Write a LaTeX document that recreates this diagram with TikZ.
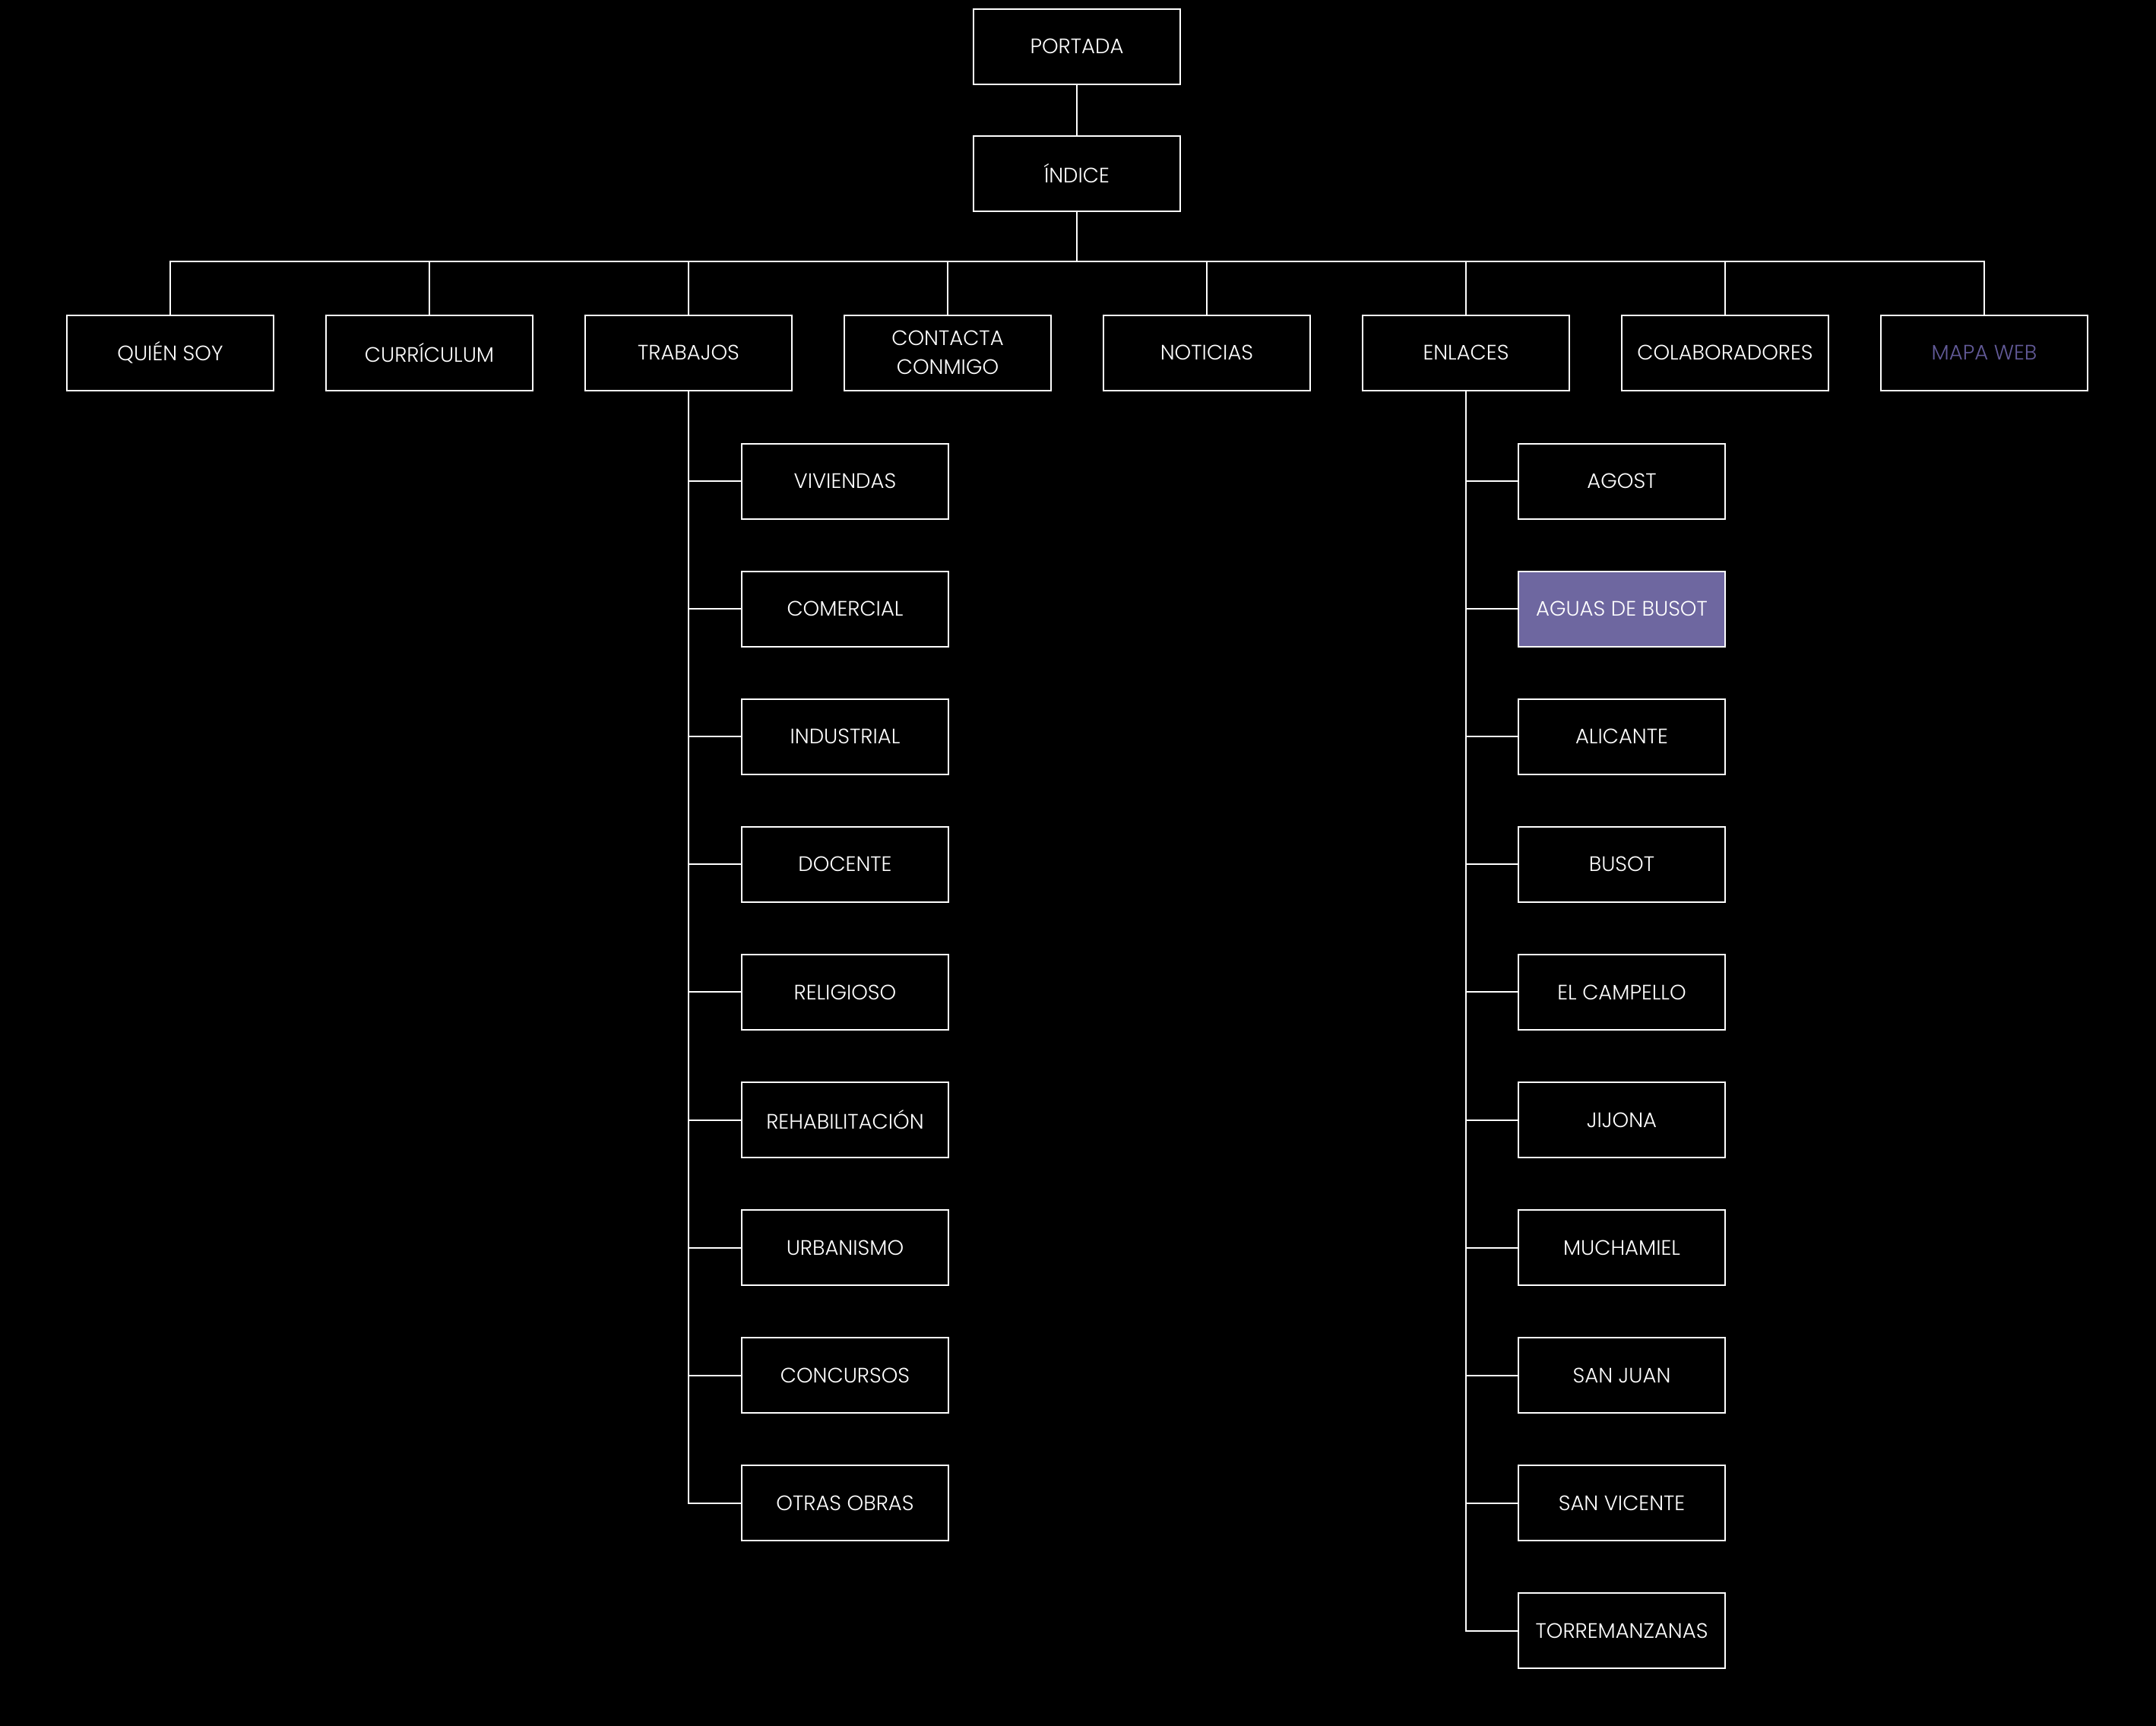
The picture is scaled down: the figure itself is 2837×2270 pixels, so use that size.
\documentclass[tikz,border=0pt]{standalone}
\usepackage{fontspec}
\setmainfont{Poppins}[UprightFont=* Light]
\definecolor{purplefill}{RGB}{110,103,160}
\definecolor{purpletext}{RGB}{98,90,152}
\begin{document}
\begin{tikzpicture}[x=1pt,y=-1pt,
  box/.style={draw=white,line width=2pt,minimum width=272pt,minimum height=99pt,inner sep=0pt,
    text=white,align=center,font=\fontsize{27.5}{38}\selectfont},
  link/.style={draw=white,line width=2pt}]
\useasboundingbox (0,0) rectangle (2837,2270);
\fill[black] (-5,-5) rectangle (2842,2275);
\node[box] (portada) at (1417,61) {PORTADA};
\node[box] (indice) at (1417,228) {ÍNDICE};
\coordinate (bar) at (1417,344);
\node[box] (quien) at (224,464) {QUIÉN SOY};
\node[box] (curriculum) at (565,464) {CURRÍCULUM};
\node[box] (trabajos) at (906,464) {TRABAJOS};
\node[box] (contacta) at (1247,464) {CONTACTA\\CONMIGO};
\node[box] (noticias) at (1588,464) {NOTICIAS};
\node[box] (enlaces) at (1929,464) {ENLACES};
\node[box] (colab) at (2270,464) {COLABORADORES};
\node[box,text=purpletext] (mapa) at (2611,464) {MAPA WEB};
\draw[link] (portada) -- (indice);
\foreach \n in {quien,curriculum,trabajos,contacta,noticias,enlaces,colab,mapa}
  \draw[link] (indice.south) |- (\n.north |- bar) -- (\n.north);
\foreach \t [count=\k from 0] in {VIVIENDAS,COMERCIAL,INDUSTRIAL,DOCENTE,RELIGIOSO,REHABILITACIÓN,URBANISMO,CONCURSOS,OTRAS OBRAS}{
  \node[box] (t\k) at (1112,633+168.1*\k) {\t};
  \draw[link] (trabajos.south) |- (t\k.west);
}
\node[box] (e0) at (2134,633) {AGOST};
\node[box,fill=purplefill] (e1) at (2134,633+168.1) {AGUAS DE BUSOT};
\foreach \t [count=\k from 2] in {ALICANTE,BUSOT,EL CAMPELLO,JIJONA,MUCHAMIEL,SAN JUAN,SAN VICENTE,TORREMANZANAS}{
  \node[box] (e\k) at (2134,633+168.1*\k) {\t};
}
\foreach \k in {0,...,9}
  \draw[link] (enlaces.south) |- (e\k.west);
\end{tikzpicture}
\end{document}
